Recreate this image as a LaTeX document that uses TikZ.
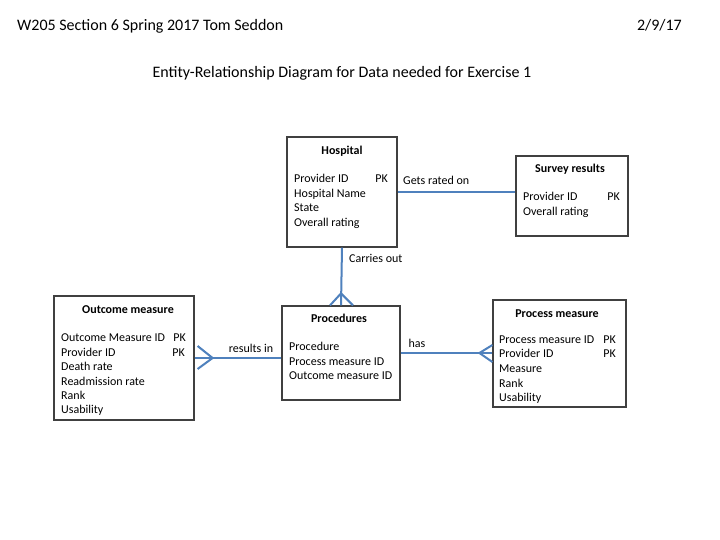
\documentclass[tikz,border=0pt]{standalone}
\usepackage{fontspec}
\setmainfont{Carlito}
\usetikzlibrary{calc}
\definecolor{relblue}{RGB}{79,129,189}
\begin{document}
\begin{tikzpicture}[x=1pt,y=-1pt,
  box/.style={draw=black!75, line width=1.2pt, rectangle, inner sep=0pt},
  attr/.style={anchor=west, inner sep=0pt, font=\fontsize{12}{14}\selectfont, text height=10pt, text depth=1pt},
  pk/.style={anchor=east, inner sep=0pt, font=\fontsize{12}{14}\selectfont, text height=10pt, text depth=1pt},
  ttl/.style={inner sep=0pt, font=\bfseries\fontsize{12}{14}\selectfont, text height=10pt, text depth=1pt},
  rel/.style={draw=relblue, line width=2pt},
  lbl/.style={inner sep=0pt, font=\fontsize{12}{14}\selectfont, text height=10pt, text depth=1pt},
  hdr/.style={inner sep=0pt, font=\fontsize{16}{19}\selectfont, text height=12pt, text depth=2pt}]
\useasboundingbox (0,0) rectangle (720,540);
\fill[white] (0,0) rectangle (720,540);

% header
\node[hdr, anchor=west] (head) at (17,26) {W205 Section 6 Spring 2017 Tom Seddon};
\node[hdr, anchor=east] (date) at (682,26) {2/9/17};
\node[hdr] (title) at (342,73) {Entity-Relationship Diagram for Data needed for Exercise 1};

% boxes
\node[box, minimum width=110pt, minimum height=110pt] (hosp) at (342,192) {};
\node[box, minimum width=112pt, minimum height=80pt] (surv) at (572,196) {};
\node[box, minimum width=140pt, minimum height=124pt] (outc) at (124,358) {};
\node[box, minimum width=118pt, minimum height=94pt] (proc) at (341,353) {};
\node[box, minimum width=133pt, minimum height=107pt] (pmeas) at (559.5,353.5) {};

% Hospital
\node[ttl] (hospT) at (342,150) {Hospital};
\node[attr] (h1) at (294,178) {Provider ID};
\node[pk] (h1pk) at (388,178) {PK};
\node[attr] (h2) at (294,193) {Hospital Name};
\node[attr] (h3) at (294,207) {State};
\node[attr] (h4) at (294,222) {Overall rating};

% Survey results
\node[ttl] (survT) at (570,168) {Survey results};
\node[attr] (s1) at (523,196) {Provider ID};
\node[pk] (s1pk) at (620,196) {PK};
\node[attr] (s2) at (523,211) {Overall rating};

% Outcome measure
\node[ttl] (outT) at (128,309) {Outcome measure};
\node[attr] (o1) at (61,337) {Outcome Measure ID};
\node[pk] (o1pk) at (186,337) {PK};
\node[attr] (o2) at (61,352) {Provider ID};
\node[pk] (o2pk) at (185,352) {PK};
\node[attr] (o3) at (61,366) {Death rate};
\node[attr] (o4) at (61,381) {Readmission rate};
\node[attr] (o5) at (61,395) {Rank};
\node[attr] (o6) at (61,409) {Usability};

% Procedures
\node[ttl] (procT) at (339,318) {Procedures};
\node[attr] (p1) at (289,346) {Procedure};
\node[attr] (p2) at (289,361) {Process measure ID};
\node[attr] (p3) at (289,375) {Outcome measure ID};

% Process measure
\node[ttl] (pmT) at (557,313) {Process measure};
\node[attr] (m1) at (499,339) {Process measure ID};
\node[pk] (m1pk) at (616,339) {PK};
\node[pk] (m2pk) at (616,353) {PK};
\node[attr] (m2) at (499,353) {Provider ID};
\node[attr] (m3) at (499,368) {Measure};
\node[attr] (m4) at (499,383) {Rank};
\node[attr] (m5) at (499,397) {Usability};

% relationships
% Hospital -- Survey results
\draw[rel] (hosp.east) -- (hosp.east -| surv.west);
\node[lbl, anchor=west] (lgets) at (403,180) {Gets rated on};

% Hospital -- Procedures (crow's foot at Procedures)
\draw[rel] (hosp.south) -- (proc.north);
\draw[rel] ($(proc.north)+(0,-12)$) -- ($(proc.north)+(-11,0)$);
\draw[rel] ($(proc.north)+(0,-12)$) -- ($(proc.north)+(12,0)$);
\node[lbl, anchor=west] (lcarr) at (349,258) {Carries out};

% Outcome -- Procedures (crow's foot at Outcome)
\coordinate (oe) at (outc.east);
\draw[rel] (oe) -- (oe -| proc.west);
\draw[rel] ($(oe)+(3,-12)$) -- ($(oe)+(18,0)$) -- ($(oe)+(3,11)$);
\node[lbl] (lres) at (251,348) {results in};

% Procedures -- Process measure (crow's foot at Process measure)
\coordinate (pe) at (proc.east);
\draw[rel] (pe) -- (pe -| pmeas.west);
\draw[rel] ($(pe -| pmeas.west)+(0,-8)$) -- ($(pe -| pmeas.west)+(-13,0)$) -- ($(pe -| pmeas.west)+(0,9)$);
\node[lbl] (lhas) at (417,343) {has};
\end{tikzpicture}
\end{document}
